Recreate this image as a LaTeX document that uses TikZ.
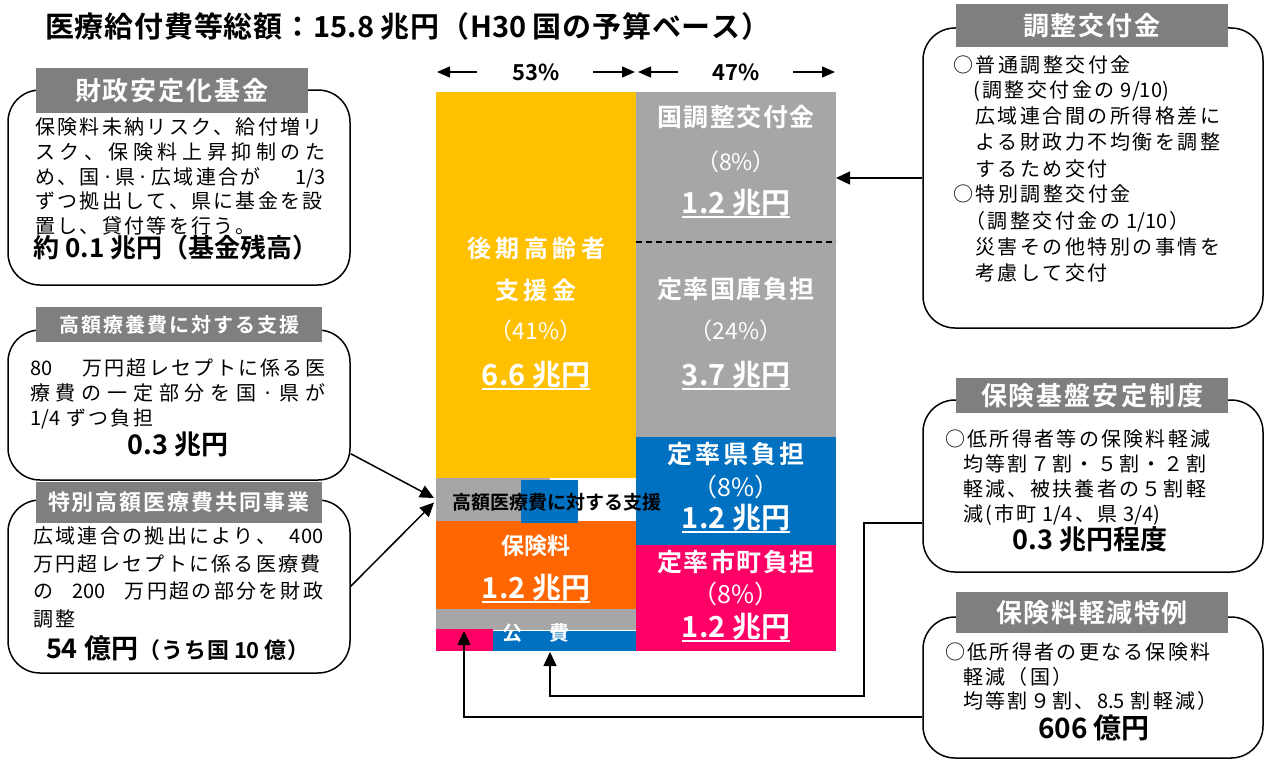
\documentclass[tikz,border=0pt]{standalone}
\usepackage{fontspec}
\setmainfont{Noto Sans CJK JP}[BoldFont={Noto Sans CJK JP Bold}]
\usetikzlibrary{arrows.meta,calc}
\newskip\cjkgap \cjkgap=0pt
\newXeTeXintercharclass\cjkcls
\newcount\cjkcc
\newcommand\setcjkrange[2]{\cjkcc=#1\relax
  \loop \XeTeXcharclass\cjkcc=\cjkcls \advance\cjkcc by 1 \ifnum\cjkcc<#2\relax\repeat}
\setcjkrange{"3000}{"3100}
\setcjkrange{"4E00}{"A000}
\setcjkrange{"FF00}{"FFF0}
\XeTeXcharclass"00B7=\cjkcls
\XeTeXcharclass"25CB=\cjkcls
\XeTeXinterchartokenstate=1
\XeTeXinterchartoks \cjkcls \cjkcls {\hskip\cjkgap}
\XeTeXinterchartoks 0 \cjkcls {\hskip\cjkgap}
\XeTeXinterchartoks \cjkcls 0 {\hskip\cjkgap}
\newcommand\gap[1]{\cjkgap=#1\relax}
% spread all characters over a width
\newcommand\spr[2]{\hbox to #1{\cjkgap=\dimexpr\cjkgap\relax plus 1fil\relax #2}}
% fixed width line, stretch only at \hfill
\newcommand\fil[2]{\hbox to #1{#2}}
\newcommand\hs{\hskip0.3em\relax}
\newcommand\fz[1]{\fontsize{#1}{#1}\selectfont}
\definecolor{cyel}{HTML}{FFC000}
\definecolor{cgray}{HTML}{A6A6A6}
\definecolor{cblue}{HTML}{0070C0}
\definecolor{cpink}{HTML}{FF0066}
\definecolor{corange}{HTML}{FF6600}
\definecolor{hdrgray}{HTML}{7F7F7F}
\tikzset{
  jbox/.style={draw=black, line width=1.5pt, rounded corners=32pt, fill=white, inner sep=0pt},
  hdr/.style={fill=hdrgray, text=white, inner sep=0pt},
  blk/.style={anchor=north west, inner sep=0pt, outer sep=0pt, draw=none},
  ctext/.style={text=white, inner sep=0pt},
  cbig/.style={ctext, font=\bfseries\fz{24}\gap{4.5pt}},
  cmid/.style={ctext, font=\bfseries\fz{25}\gap{1.5pt}},
  cpct/.style={ctext, font=\fz{23}},
  cmoney/.style={ctext, anchor=base, font=\bfseries\fz{29}},
  ul/.style={white, line width=1.5pt},
  body/.style={anchor=base west, inner sep=0pt, font=\fz{20}\gap{2.3pt}},
  rbody/.style={anchor=base west, inner sep=0pt, font=\fz{20}\gap{2.5pt}},
  bold/.style={anchor=base, inner sep=0pt},
  conn/.style={line width=1.5pt, -{Triangle[length=14pt,width=13pt]}},
  parr/.style={line width=1.5pt, -{Triangle[length=13pt,width=11pt]}},
}
\begin{document}
\begin{tikzpicture}[x=1pt,y=-1pt]
\useasboundingbox (0,0) rectangle (1265,760);
% title
\node[anchor=west, inner sep=0pt, font=\bfseries\fz{29}\gap{0.8pt}] (title) at (45,26) {医療給付費等総額：15.8 兆円（H30 国の予算ベース）};
% percentage labels
\node[inner sep=0pt, font=\bfseries\fz{22}] (l53) at (536,72) {53\%};
\node[inner sep=0pt, font=\bfseries\fz{22}] (l47) at (736,72) {47\%};
\coordinate (a1) at (477,72); \coordinate (a1t) at (437,72);
\coordinate (a2) at (593,72); \coordinate (a2t) at (635,72);
\coordinate (a3) at (678,72); \coordinate (a3t) at (638,72);
\coordinate (a4) at (793,72); \coordinate (a4t) at (835,72);
\draw[parr] (a1) -- (a1t);
\draw[parr] (a2) -- (a2t);
\draw[parr] (a3) -- (a3t);
\draw[parr] (a4) -- (a4t);
% chart blocks
\node[blk, fill=cyel, minimum width=200pt, minimum height=386pt] (yel) at (436,92) {};
\node[blk, fill=cgray, minimum width=200pt, minimum height=150pt] (adj) at (636,92) {};
\node[blk, fill=cgray, minimum width=200pt, minimum height=195pt] (kok) at (636,242) {};
\node[blk, fill=cblue, minimum width=200pt, minimum height=108pt] (ken) at (636,437) {};
\node[blk, fill=cpink, minimum width=200pt, minimum height=106pt] (shi) at (636,545) {};
\node[blk, fill=corange, minimum width=200pt, minimum height=88pt] (hok) at (436,521) {};
\node[blk, fill=cgray, minimum width=114pt, minimum height=43pt] (strip) at (436,478) {};
\node[blk, fill=cblue, minimum width=57pt, minimum height=43pt] (stripb) at (521,480) {};
\node[blk, fill=cgray, minimum width=200pt, minimum height=21pt] (kohi) at (436,609) {};
\node[blk, fill=cpink, minimum width=57pt, minimum height=22pt] (kohip) at (436,629) {};
\node[blk, fill=cblue, minimum width=143pt, minimum height=20pt] (kohib) at (493,631) {};
\draw[line width=1.5pt, dash pattern=on 6pt off 4pt] (adj.south west) -- (adj.south east);
% chart texts
\node[cbig] (y1) at (536,248) {後期高齢者};
\node[cbig] (y2) at (536,290) {支援金};
\node[cpct] (y3) at (536,331) {（41\%）};
\node[cmoney] (y4) at (536,385) {6.6 兆円};
\node[cmid] (g1) at (736,117) {国調整交付金};
\node[cpct] (g2) at (736,162) {（8\%）};
\node[cmoney] (g3) at (736,213) {1.2 兆円};
\node[cmid] (k1t) at (736,289) {定率国庫負担};
\node[cpct] (k2) at (736,331) {（24\%）};
\node[cmoney] (k3) at (736,385) {3.7 兆円};
\node[ctext, font=\bfseries\fz{25}\gap{3pt}] (p1) at (736,454) {定率県負担};
\node[cpct, font=\fz{25}] (p2) at (736,487) {（8\%）};
\node[cmoney] (p3) at (736,528) {1.2 兆円};
\node[cmid] (s1) at (736,562) {定率市町負担};
\node[cpct, font=\fz{25}] (s2) at (736,594) {（8\%）};
\node[cmoney] (s3) at (736,637) {1.2 兆円};
\node[ctext, font=\bfseries\fz{23}] (h1t) at (536,546) {保険料};
\node[cmoney] (h2t) at (536,598) {1.2 兆円};
\node[ctext, font=\bfseries\fz{20}] (kt) at (536,633) {公\hspace{27pt}費};
\node[inner sep=0pt, font=\bfseries\fz{19}] (st) at (557,502) {高額医療費に対する支援};
\foreach \n in {y4,g3,k3,p3,s3,h2t}
  \draw[ul] ($(\n.base west)+(0,4)$) -- ($(\n.base east)+(0,4)$);
% left boxes
\node[jbox, minimum width=342pt, minimum height=195pt] (b1) at (179,187.5) {};
\node[hdr, minimum width=272pt, minimum height=45pt, font=\bfseries\fz{26}\gap{2pt}] (hd1) at (172,90.5) {財政安定化基金};
\node[body] (b1a) at (35,134.5) {保険料未納リスク、給付増リ};
\node[body] (b1b) at (35,159.5) {\spr{290pt}{スク、保険料上昇抑制のた}};
\node[body] (b1c) at (35,184.5) {\fil{290pt}{め、国·県·広域連合が\hfill 1/3}};
\node[body] (b1d) at (35,208.5) {ずつ拠出して、県に基金を設};
\node[body] (b1e) at (35,233.5) {置し、貸付等を行う。};
\node[bold, font=\bfseries\fz{26}] (b1f) at (176,257) {約 0.1 兆円（基金残高）};

\node[jbox, minimum width=342pt, minimum height=150pt] (b2) at (179,405) {};
\node[hdr, minimum width=286pt, minimum height=35pt, font=\bfseries\fz{20}\gap{2pt}] (hd2) at (179,324.5) {高額療養費に対する支援};
\node[body] (b2a) at (30,375.5) {\fil{295pt}{80\hfill 万円超レセプトに係る医}};
\node[body] (b2b) at (30,400.5) {\spr{295pt}{療費の一定部分を国·県が}};
\node[body] (b2c) at (30,425.5) {1/4\hs ずつ負担};
\node[bold, font=\bfseries\fz{27}] (b2d) at (178,454) {0.3 兆円};

\node[jbox, minimum width=342pt, minimum height=173pt] (b3) at (179,586.5) {};
\node[hdr, minimum width=286pt, minimum height=41pt, font=\bfseries\fz{22}\gap{2pt}] (hd3) at (179,502.5) {特別高額医療費共同事業};
\node[body] (b3a) at (33,543) {\fil{290pt}{広域連合の拠出により、\hfill 400}};
\node[body] (b3b) at (33,571) {万円超レセプトに係る医療費};
\node[body] (b3c) at (33,598) {\fil{290pt}{の\hfill 200\hfill 万円超の部分を財政}};
\node[body] (b3d) at (33,626) {調整};
\node[bold, font=\bfseries\fz{27}] (b3e) at (178,658) {54 億円{\fz{22}\gap{1pt}（うち国 10 億）}};

% right boxes
\node[jbox, minimum width=340pt, minimum height=300pt] (r1) at (1093,178) {};
\node[hdr, minimum width=272pt, minimum height=43pt, font=\bfseries\fz{26}\gap{2pt}] (hr1) at (1092,25.5) {調整交付金};
\node[rbody] (r1a) at (953,72.5) {○普通調整交付金};
\node[rbody] (r1b) at (973,97.5) {(調整交付金の\hs 9/10)};
\node[rbody] (r1c) at (975,123.5) {広域連合間の所得格差に};
\node[rbody] (r1d) at (975,149.5) {よる財政力不均衡を調整};
\node[rbody] (r1e) at (975,176.5) {するため交付};
\node[rbody] (r1f) at (953,201.5) {○特別調整交付金};
\node[rbody] (r1g) at (965,228.5) {（調整交付金の\hs 1/10）};
\node[rbody] (r1h) at (975,254.5) {災害その他特別の事情を};
\node[rbody] (r1i) at (975,280.5) {考慮して交付};

\node[jbox, minimum width=340pt, minimum height=172pt] (r2) at (1093,486) {};
\node[hdr, minimum width=272pt, minimum height=35pt, font=\bfseries\fz{26}\gap{2pt}] (hr2) at (1092,395.5) {保険基盤安定制度};
\node[body] (r2a) at (945,446.5) {○低所得者等の保険料軽減};
\node[body] (r2b) at (963,471.5) {均等割７割・５割・２割};
\node[body] (r2c) at (963,496.5) {軽減、被扶養者の５割軽};
\node[body] (r2d) at (963,521.5) {減(市町\hs 1/4、県\hs 3/4)};
\node[bold, font=\bfseries\fz{27}] (r2e) at (1090,549) {0.3 兆円程度};

\node[jbox, minimum width=340pt, minimum height=141pt] (r3) at (1093,687.5) {};
\node[hdr, minimum width=272pt, minimum height=41pt, font=\bfseries\fz{26}\gap{1.5pt}] (hr3) at (1092,612.5) {保険料軽減特例};
\node[body] (r3a) at (945,659.5) {○低所得者の更なる保険料};
\node[body] (r3b) at (963,684.5) {軽減（国）};
\node[body] (r3c) at (963,708.5) {均等割９割、8.5\hs 割軽減）};
\node[bold, font=\bfseries\fz{28}] (r3d) at (1094,738) {606 億円};

% connectors
\draw[conn] ($(b2.south east)+(0,-27)$) -- ($(strip.west)+(-2,-1.5)$);
\draw[conn] ($(b3.north east)+(0,87)$) -- ($(strip.west)+(-2,3)$);
\draw[conn] (r1.west) -- (r1.west -| adj.east);
\coordinate (k1) at (864,696);
\coordinate (t1) at (550,652);
\coordinate (t2) at (464,631);
\draw[conn] ($(r2.west)+(0,37)$) -| (k1) -| (t1);
\draw[conn] ($(r3.west)+(0,29.5)$) -| (t2);
\end{tikzpicture}
\end{document}
